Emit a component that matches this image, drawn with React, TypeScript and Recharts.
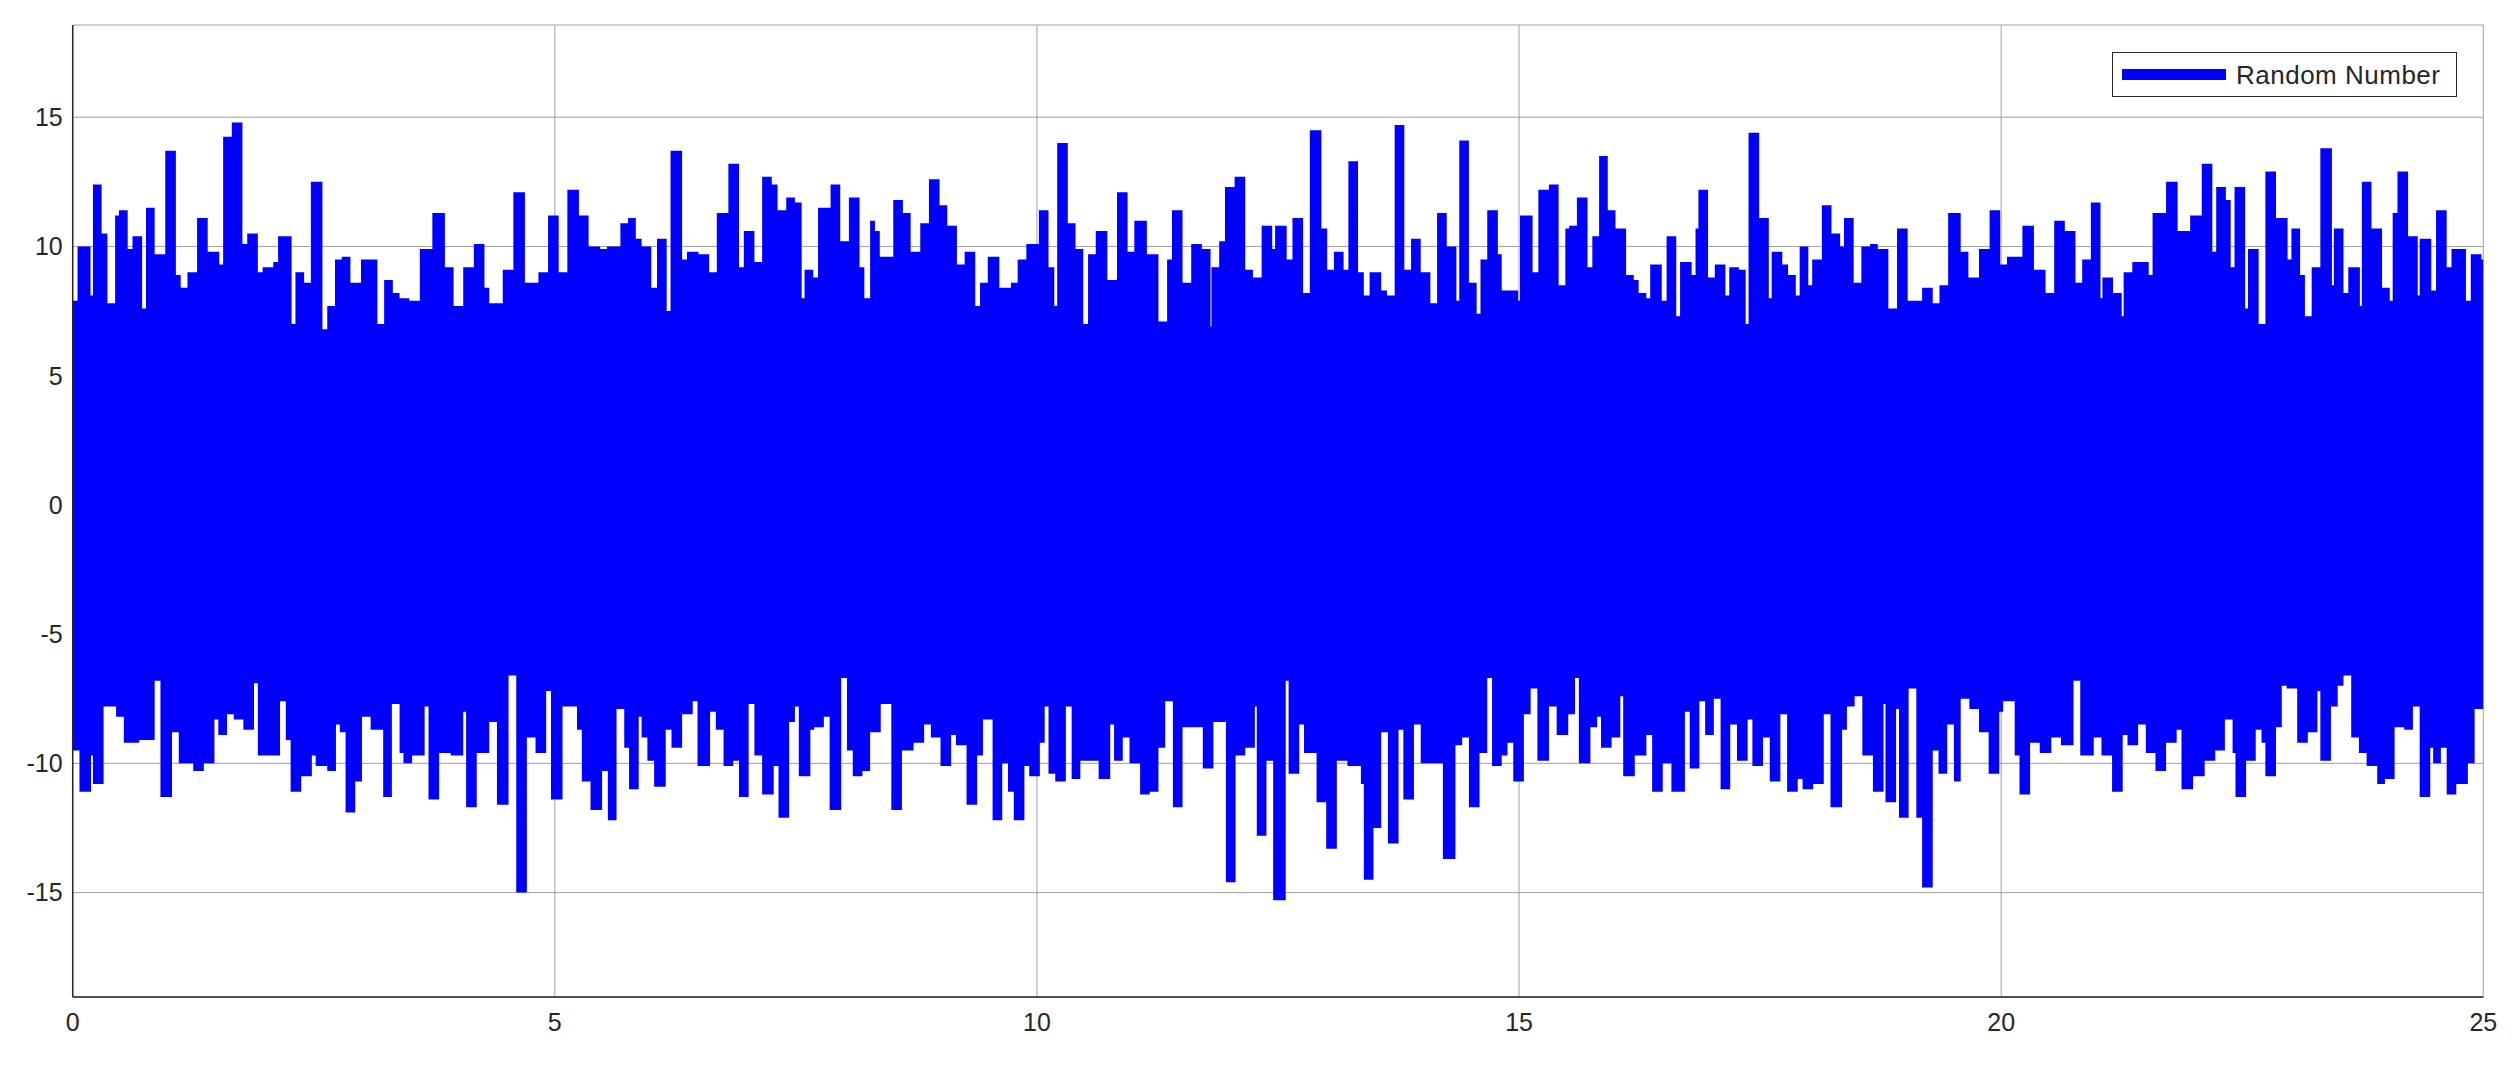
import React from 'react';
import { ComposedChart, Area, XAxis, YAxis, CartesianGrid, Legend } from 'recharts';

// Upper envelope of the signal: [time (s), value]
const upperSteps: [number, number][] = [
  [0, 7.9], [0.05, 10.0], [0.185, 8.1], [0.21, 12.4], [0.3, 10.5], [0.36, 7.8], [0.44, 11.2], [0.48, 11.4],
  [0.57, 9.9], [0.62, 10.4], [0.72, 7.6], [0.76, 11.5], [0.85, 9.7], [0.96, 13.7], [1.07, 8.9], [1.12, 8.4],
  [1.19, 9.0], [1.29, 11.1], [1.4, 9.8], [1.52, 9.3], [1.56, 14.25], [1.65, 14.8], [1.76, 10.1], [1.81, 10.5],
  [1.92, 9.0], [1.97, 9.2], [2.08, 9.4], [2.13, 10.4], [2.27, 7.0], [2.31, 9.0], [2.4, 8.6], [2.47, 12.5],
  [2.59, 6.8], [2.64, 7.7], [2.72, 9.5], [2.79, 9.6], [2.88, 8.6], [2.99, 9.5], [3.16, 7.0], [3.23, 8.7],
  [3.32, 8.2], [3.39, 8.0], [3.49, 7.9], [3.6, 9.9], [3.73, 11.3], [3.86, 9.2], [3.95, 7.7], [4.05, 9.2],
  [4.16, 10.1], [4.27, 8.4], [4.32, 7.8], [4.46, 9.1], [4.57, 12.1], [4.69, 8.6], [4.83, 9.0], [4.93, 11.2],
  [5.04, 9.0], [5.13, 12.2], [5.25, 11.2], [5.35, 10.0], [5.47, 9.9], [5.54, 10.0], [5.68, 10.9], [5.76, 11.1],
  [5.84, 10.3], [5.9, 10.0], [6.0, 8.4], [6.06, 10.3], [6.16, 7.5], [6.2, 13.7], [6.32, 9.5], [6.37, 9.8],
  [6.49, 9.7], [6.6, 9.0], [6.68, 11.3], [6.8, 13.2], [6.91, 9.2], [6.96, 10.6], [7.07, 9.4], [7.15, 12.7],
  [7.25, 12.4], [7.31, 11.4], [7.4, 11.9], [7.49, 11.7], [7.56, 8.0], [7.59, 9.1], [7.68, 8.8], [7.73, 11.5],
  [7.86, 12.4], [7.96, 10.2], [8.05, 11.9], [8.16, 9.2], [8.21, 8.0], [8.27, 11.0],
  [8.32, 10.6], [8.37, 9.6], [8.51, 11.8], [8.61, 11.3], [8.69, 9.8], [8.79, 10.9], [8.88, 12.6], [8.99, 11.6],
  [9.07, 10.8], [9.17, 9.3], [9.25, 9.8], [9.36, 7.7], [9.41, 8.6], [9.49, 9.6], [9.61, 8.4], [9.73, 8.6],
  [9.8, 9.5], [9.89, 10.1], [10.02, 11.4], [10.12, 9.2], [10.18, 7.7], [10.21, 14.0], [10.32, 10.9], [10.4, 9.9],
  [10.48, 7.0], [10.53, 9.7], [10.61, 10.6], [10.73, 8.7], [10.83, 12.1], [10.94, 9.8], [11.01, 11.0], [11.14, 9.7],
  [11.26, 7.1], [11.35, 9.5], [11.4, 11.4], [11.51, 8.6], [11.6, 10.1], [11.71, 9.9], [11.8, 6.9], [11.81, 9.2],
  [11.89, 10.2], [11.95, 12.3], [12.05, 12.7], [12.16, 9.1], [12.24, 8.8], [12.33, 10.8], [12.44, 9.9], [12.47, 10.8],
  [12.59, 9.5], [12.65, 11.1], [12.76, 8.2], [12.83, 14.5], [12.95, 10.7], [13.01, 9.1], [13.08, 9.8], [13.18, 9.1],
  [13.23, 13.3], [13.33, 9.0], [13.39, 8.1], [13.45, 9.0], [13.57, 8.3], [13.63, 8.1], [13.71, 14.7], [13.81, 9.1],
  [13.88, 10.3], [13.98, 9.0], [14.08, 7.8], [14.15, 11.3], [14.25, 10.0], [14.35, 7.9], [14.38, 14.1], [14.48, 8.6],
  [14.56, 7.4], [14.6, 9.5], [14.67, 11.4], [14.78, 9.7], [14.82, 8.3], [14.99, 7.9], [15.01, 11.2], [15.14, 9.0],
  [15.2, 12.2], [15.31, 12.4], [15.41, 8.5], [15.48, 10.7], [15.52, 10.8], [15.6, 11.9], [15.71, 9.2], [15.76, 10.4],
  [15.83, 13.5], [15.92, 11.4], [16.0, 10.7], [16.11, 8.9], [16.19, 8.7], [16.24, 8.2], [16.32, 8.0], [16.36, 9.3],
  [16.48, 7.9], [16.53, 10.4], [16.63, 7.3],
  [16.67, 9.4], [16.79, 8.9], [16.83, 10.7], [16.86, 12.2], [16.96, 8.8], [17.03, 9.3], [17.14, 8.1], [17.18, 9.2],
  [17.28, 9.1], [17.35, 7.0], [17.38, 14.4], [17.49, 11.1], [17.59, 8.0], [17.62, 9.8], [17.73, 9.3], [17.79, 8.9],
  [17.87, 8.1], [17.91, 10.0], [18.0, 8.5], [18.04, 9.5], [18.14, 11.6], [18.24, 10.5], [18.33, 10.0], [18.37, 11.1],
  [18.47, 8.6], [18.55, 10.0], [18.64, 10.1], [18.72, 9.9], [18.83, 7.6], [18.92, 10.7], [19.03, 7.9], [19.18, 8.4],
  [19.29, 7.8], [19.36, 8.5], [19.45, 11.3], [19.58, 9.8], [19.66, 8.8], [19.77, 9.9], [19.88, 11.4], [19.99, 9.3],
  [20.06, 9.6], [20.22, 10.8], [20.34, 9.1], [20.46, 8.2], [20.55, 11.0], [20.66, 10.6], [20.77, 8.6], [20.84, 9.5],
  [20.93, 11.7], [21.03, 8.0], [21.05, 8.8], [21.16, 8.2], [21.25, 7.3], [21.27, 9.0], [21.36, 9.4], [21.53, 8.9],
  [21.57, 11.3], [21.71, 12.5], [21.83, 10.6], [21.96, 11.2], [22.08, 13.2], [22.19, 9.8], [22.23, 12.3], [22.33, 11.8],
  [22.38, 9.2], [22.42, 12.3], [22.53, 7.6], [22.56, 9.9], [22.67, 7.0], [22.74, 12.9], [22.85, 11.1], [22.97, 9.5],
  [23.01, 10.7], [23.1, 8.9], [23.15, 7.3], [23.22, 9.2], [23.31, 13.8], [23.43, 8.5], [23.45, 10.7], [23.55, 8.2],
  [23.6, 9.2], [23.72, 7.7], [23.74, 12.5], [23.84, 10.7], [23.95, 8.4], [24.03, 7.9], [24.06, 11.3], [24.11, 12.9],
  [24.22, 10.4], [24.32, 8.1], [24.34, 10.3], [24.46, 8.3], [24.51, 11.4], [24.62, 9.2], [24.67, 9.9], [24.82, 7.9],
  [24.87, 9.7], [24.98, 9.5], [25, 9.5],
];

// Lower envelope of the signal: [time (s), value]
const lowerSteps: [number, number][] = [
  [0, -9.5], [0.07, -11.1], [0.19, -9.7], [0.21, -10.8], [0.32, -7.8], [0.45, -8.2], [0.53, -9.2], [0.69, -9.1],
  [0.85, -6.8], [0.91, -11.3], [1.03, -8.8], [1.1, -10.0], [1.25, -10.3], [1.36, -10.0], [1.47, -8.3], [1.51, -8.9],
  [1.6, -8.1], [1.67, -8.3], [1.77, -8.7], [1.88, -6.9], [1.92, -9.7], [2.15, -7.6], [2.21, -9.1], [2.26, -11.1],
  [2.37, -10.5], [2.48, -9.7], [2.52, -10.1], [2.64, -10.3], [2.73, -8.5], [2.77, -8.8], [2.83, -11.9], [2.93, -10.7],
  [3.0, -8.2], [3.09, -8.7], [3.22, -11.3], [3.31, -7.7], [3.39, -9.6], [3.43, -10.0], [3.52, -9.7], [3.65, -7.8],
  [3.69, -11.4], [3.8, -9.6], [3.92, -9.7], [4.05, -8.0], [4.08, -11.7], [4.19, -9.6], [4.32, -8.4], [4.4, -11.6],
  [4.52, -6.6], [4.6, -15.0], [4.71, -9.0], [4.8, -9.6], [4.91, -7.2], [4.96, -11.4], [5.08, -7.8], [5.23, -8.7],
  [5.28, -10.7], [5.37, -11.8], [5.49, -10.3], [5.55, -12.2], [5.64, -7.9], [5.72, -9.4], [5.77, -11.0], [5.87, -8.2],
  [5.9, -9.0], [5.96, -9.9], [6.03, -10.9], [6.15, -8.7], [6.21, -9.4], [6.32, -8.1], [6.43, -7.6], [6.48, -10.1],
  [6.61, -8.0], [6.67, -8.7], [6.75, -10.1], [6.85, -9.9], [6.91, -11.3], [7.01, -7.7], [7.07, -9.7], [7.15, -11.2],
  [7.27, -10.1], [7.32, -12.1], [7.43, -8.4], [7.49, -7.8], [7.53, -10.5], [7.65, -8.7], [7.69, -8.6], [7.79, -8.2],
  [7.85, -11.8], [7.97, -6.7], [8.03, -9.5], [8.09, -10.5], [8.19, -10.3], [8.27, -8.8],
  [8.32, -8.8], [8.38, -7.7], [8.49, -11.8], [8.6, -9.5], [8.72, -9.2], [8.83, -8.5], [8.9, -9.0], [9.0, -10.1],
  [9.11, -8.9], [9.16, -9.3], [9.27, -11.6], [9.38, -9.7], [9.44, -8.3], [9.54, -12.2], [9.64, -10.0], [9.7, -11.1],
  [9.76, -12.2], [9.87, -10.1], [9.92, -10.5], [10.03, -9.2], [10.08, -7.8], [10.12, -10.4], [10.19, -10.7], [10.3, -7.8],
  [10.36, -10.6], [10.45, -9.9], [10.55, -9.9], [10.64, -10.6], [10.76, -8.5], [10.8, -9.9], [10.89, -9.0], [10.96, -10.0],
  [11.07, -11.2], [11.17, -11.1], [11.26, -9.4], [11.33, -7.6], [11.41, -11.7], [11.51, -8.6], [11.72, -10.2], [11.83, -8.4],
  [11.96, -14.6], [12.06, -9.7], [12.16, -9.4], [12.26, -7.8], [12.28, -12.8], [12.38, -9.9], [12.45, -15.3], [12.58, -6.8],
  [12.61, -10.4], [12.72, -8.5], [12.77, -9.6], [12.9, -11.5], [13.0, -13.3], [13.11, -9.9], [13.22, -10.1], [13.36, -10.8],
  [13.39, -14.5], [13.49, -12.5], [13.57, -8.8], [13.64, -13.1], [13.75, -8.7], [13.8, -11.4], [13.91, -8.5], [13.98, -10.0],
  [14.21, -13.7], [14.34, -9.3], [14.41, -9.0], [14.48, -11.7], [14.59, -9.6], [14.67, -6.7], [14.72, -10.1], [14.82, -9.7],
  [14.88, -9.2], [14.94, -10.7], [15.05, -8.1], [15.12, -7.1], [15.19, -9.9], [15.31, -7.8], [15.39, -8.9], [15.51, -8.1],
  [15.58, -6.7], [15.62, -10.0], [15.74, -8.6], [15.81, -8.2], [15.85, -9.4], [15.96, -9.0], [16.05, -7.4], [16.08, -10.5],
  [16.2, -9.7], [16.32, -8.9], [16.38, -11.1], [16.49, -10.0], [16.58, -11.1],
  [16.67, -11.1], [16.72, -8.0], [16.77, -10.2], [16.87, -7.6], [16.93, -8.9], [17.02, -7.5], [17.09, -11.0], [17.19, -8.5],
  [17.26, -9.9], [17.37, -8.3], [17.42, -10.1], [17.53, -9.0], [17.6, -10.7], [17.71, -8.1], [17.78, -11.1], [17.89, -10.6],
  [17.94, -11.0], [18.05, -10.8], [18.16, -8.1], [18.23, -11.7], [18.35, -8.7], [18.4, -7.8], [18.48, -7.4], [18.56, -9.7],
  [18.67, -11.1], [18.78, -7.7], [18.8, -11.5], [18.91, -7.9], [18.94, -12.1], [19.04, -7.1], [19.12, -12.1], [19.18, -14.8],
  [19.29, -9.5], [19.35, -10.4], [19.44, -8.5], [19.51, -10.7], [19.58, -7.5], [19.67, -7.9], [19.77, -8.8], [19.87, -10.4],
  [19.98, -8.0], [20.02, -7.6], [20.14, -9.7], [20.19, -11.2], [20.3, -9.2], [20.4, -9.6], [20.52, -9.0], [20.62, -9.3],
  [20.75, -6.8], [20.82, -9.7], [20.96, -9.0], [21.04, -9.7], [21.15, -11.1], [21.26, -8.9], [21.31, -9.3], [21.42, -8.5],
  [21.5, -9.6], [21.6, -10.3], [21.71, -9.2], [21.82, -8.7], [21.87, -11.0], [21.99, -10.5], [22.11, -9.9], [22.22, -9.5],
  [22.32, -8.3], [22.4, -9.6], [22.43, -11.3], [22.54, -9.9], [22.64, -8.7], [22.7, -9.2], [22.74, -10.5], [22.85, -8.6],
  [22.91, -7.0], [22.96, -7.1], [23.07, -9.2], [23.18, -8.8], [23.28, -7.2], [23.31, -9.9], [23.42, -7.8], [23.49, -7.0],
  [23.55, -6.6], [23.63, -9.0], [23.71, -9.6], [23.79, -10.1], [23.9, -10.8], [23.98, -10.6], [24.08, -8.6], [24.18, -8.7],
  [24.27, -7.8], [24.34, -11.3], [24.45, -9.4], [24.48, -10.0], [24.56, -9.4], [24.62, -11.2], [24.72, -10.8], [24.84, -10.0],
  [24.91, -7.9], [25, -7.9],
];

const xTicks = [0, 5, 10, 15, 20, 25];
const yTicks = [-15, -10, -5, 0, 5, 10, 15];
const seriesName = 'Random Number';

const upperData = upperSteps.map(([t, v]) => ({ t, v }));
const lowerData = lowerSteps.map(([t, v]) => ({ t, v }));

const BLUE = '#0000ff';
const AXIS = '#262626';
const FONT = '"Liberation Sans", Arial, Helvetica, sans-serif';
const X_DOMAIN: [number, number] = [0, 25];
const Y_DOMAIN: [number, number] = [-19.04, 18.57];

const LegendBox = () => (
  <div
    style={{
      boxSizing: 'border-box',
      width: 345,
      height: 45,
      border: `1.5px solid ${AXIS}`,
      background: '#fff',
      display: 'flex',
      alignItems: 'center',
      fontFamily: FONT,
    }}
  >
    <div style={{ width: 104, height: 11, background: BLUE, marginLeft: 9 }} />
    <span style={{ marginLeft: 10, fontSize: 26, letterSpacing: 0.5, color: AXIS, lineHeight: '30px', whiteSpace: 'nowrap' }}>
      {seriesName}
    </span>
  </div>
);

export default function App() {
  return (
    <div style={{ position: 'absolute', left: 0, top: 0, width: 2518, height: 1067, background: '#fff' }}>
      <ComposedChart
        width={2518}
        height={1067}
        margin={{ top: 25, right: 34.7, bottom: 30, left: 12.7 }}
      >
        <CartesianGrid stroke="#a0a0a0" strokeWidth={1} />
        {/* inward tick marks on the bottom edge */}
        <XAxis
          xAxisId="bottomTicks"
          dataKey="t"
          type="number"
          domain={X_DOMAIN}
          ticks={xTicks}
          height={0}
          mirror
          tick={false}
          tickSize={22}
          tickLine={{ stroke: AXIS, strokeWidth: 1 }}
          axisLine={false}
        />
        <XAxis
          dataKey="t"
          type="number"
          domain={X_DOMAIN}
          ticks={xTicks}
          allowDataOverflow
          height={40}
          tickSize={0}
          tickMargin={16}
          tickLine={false}
          axisLine={{ stroke: AXIS, strokeWidth: 1.5 }}
          tick={{ fill: AXIS, fontSize: 25, fontFamily: FONT }}
        />
        <XAxis
          xAxisId="top"
          orientation="top"
          dataKey="t"
          type="number"
          domain={X_DOMAIN}
          ticks={xTicks}
          height={0}
          mirror
          tick={false}
          tickSize={22}
          tickLine={{ stroke: AXIS, strokeWidth: 1 }}
          axisLine={{ stroke: AXIS, strokeWidth: 1.5 }}
        />
        {/* inward tick marks on the left edge */}
        <YAxis
          yAxisId="leftTicks"
          type="number"
          domain={Y_DOMAIN}
          ticks={yTicks}
          width={0}
          mirror
          tick={false}
          tickSize={22}
          tickLine={{ stroke: AXIS, strokeWidth: 1 }}
          axisLine={false}
        />
        <YAxis
          type="number"
          domain={Y_DOMAIN}
          ticks={yTicks}
          allowDataOverflow
          width={60}
          tickSize={0}
          tickMargin={10}
          tickLine={false}
          axisLine={{ stroke: AXIS, strokeWidth: 1.5 }}
          tick={{ fill: AXIS, fontSize: 25, fontFamily: FONT }}
        />
        <YAxis
          yAxisId="right"
          orientation="right"
          type="number"
          domain={Y_DOMAIN}
          ticks={yTicks}
          width={0}
          mirror
          tick={false}
          tickSize={22}
          tickLine={{ stroke: AXIS, strokeWidth: 1 }}
          axisLine={{ stroke: AXIS, strokeWidth: 1.5 }}
        />
        <Area
          data={upperData}
          dataKey="v"
          name={seriesName}
          type="stepAfter"
          baseValue={0}
          stroke="none"
          fill={BLUE}
          fillOpacity={1}
          isAnimationActive={false}
          legendType="none"
        />
        <Area
          data={lowerData}
          dataKey="v"
          name={seriesName}
          type="stepAfter"
          baseValue={0}
          stroke="none"
          fill={BLUE}
          fillOpacity={1}
          isAnimationActive={false}
          legendType="none"
        />
        <Legend
          layout="horizontal"
          verticalAlign="middle"
          align="center"
          content={() => <LegendBox />}
          wrapperStyle={{ position: 'absolute', left: 2112, top: 52, width: 345, height: 45 }}
        />
      </ComposedChart>
    </div>
  );
}
